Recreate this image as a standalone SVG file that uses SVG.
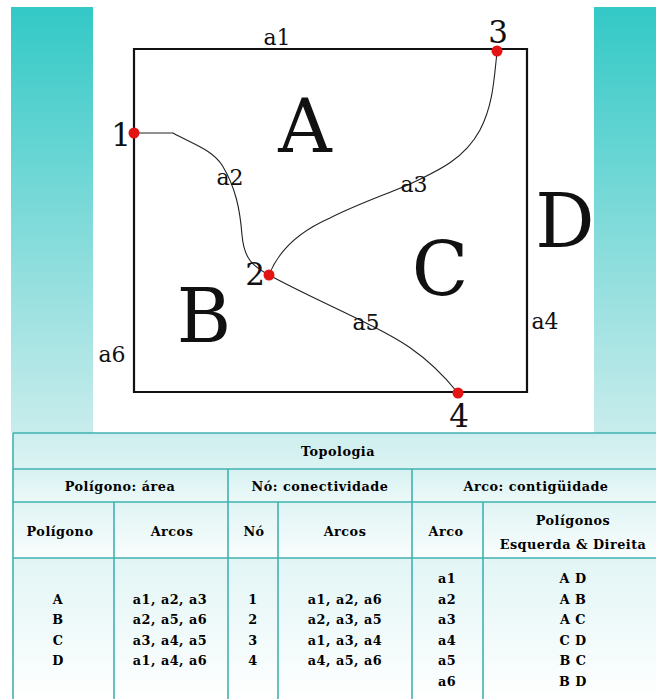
<svg xmlns="http://www.w3.org/2000/svg" width="656" height="699" viewBox="0 0 656 699">
<style>
.lbl{font-family:"DejaVu Serif","Liberation Serif",serif;fill:#111;text-anchor:middle}
.small{font-size:22px}
.num{font-size:31px}
.big{font-size:74px}
.arc{fill:none;stroke:#222;stroke-width:1.1}
.edge{fill:none;stroke:#111;stroke-width:2.2}
.dot{fill:#e31414}
.tt{font-family:"DejaVu Serif","Liberation Serif",serif;font-weight:bold;font-size:12.8px;fill:#000;text-anchor:middle;letter-spacing:0.5px}
.grid{stroke:#3fb3b0;stroke-width:1.6;fill:none}
</style>
<defs>
<linearGradient id="bg" x1="0" y1="0" x2="0" y2="1">
<stop offset="0" stop-color="#33c9c6"/>
<stop offset="1" stop-color="#c9ecec"/>
</linearGradient>
<linearGradient id="rowT" x1="0" y1="0" x2="0" y2="1">
<stop offset="0" stop-color="#cdeeee"/>
<stop offset="1" stop-color="#dcf3f3"/>
</linearGradient>
<linearGradient id="rowH" x1="0" y1="0" x2="0" y2="1">
<stop offset="0" stop-color="#d6f1f1"/>
<stop offset="1" stop-color="#edf9f9"/>
</linearGradient>
<linearGradient id="rowC" x1="0" y1="0" x2="0" y2="1">
<stop offset="0" stop-color="#dff4f4"/>
<stop offset="1" stop-color="#fafdfd"/>
</linearGradient>
<linearGradient id="rowD" x1="0" y1="0" x2="0" y2="1">
<stop offset="0" stop-color="#e2f5f5"/>
<stop offset="1" stop-color="#ffffff"/>
</linearGradient>
</defs>
<rect width="656" height="699" fill="#ffffff"/>
<rect x="11" y="7" width="645" height="426" fill="url(#bg)"/>
<rect x="93" y="7" width="501" height="426" fill="#ffffff"/>

<g id="connectors">
<path id="a1" class="edge" d="M134,133 L134,49 L497,49"/>
<path id="a4" class="edge" d="M497,49 L527,49 L527,392 L458,392"/>
<path id="a6" class="edge" d="M458,392 L134,392 L134,133"/>
<path id="a2" class="arc" d="M134,133 L173,133 C195,145 212,150 222,165 C236,188 240,210 242,235 C244,258 252,266 269,275"/>
<path id="a3" class="arc" d="M269,275 C278,252 298,232 330,218 C360,203 385,195 410,184 C440,170 465,158 480,130 C493,105 494,80 497,52"/>
<path id="a5" class="arc" d="M269,275 C300,292 330,305 360,320 C395,337 425,352 458,393"/>
</g>

<g id="region-A"><text class="lbl big" x="305" y="152">A</text></g>
<g id="region-B"><text class="lbl big" x="204" y="342">B</text></g>
<g id="region-C"><text class="lbl big" x="440" y="295">C</text></g>
<g id="region-D"><text class="lbl big" x="565" y="247">D</text></g>

<g id="arc-labels">
<text class="lbl small" x="277" y="45">a1</text>
<text class="lbl small" x="230" y="185">a2</text>
<text class="lbl small" x="414" y="192">a3</text>
<text class="lbl small" x="545" y="329">a4</text>
<text class="lbl small" x="366" y="330">a5</text>
<text class="lbl small" x="112" y="362">a6</text>
</g>

<g id="node-1"><circle class="dot" cx="134" cy="133" r="5.5"/><text class="lbl num" x="121" y="146">1</text></g>
<g id="node-2"><circle class="dot" cx="269" cy="275" r="5.5"/><text class="lbl num" x="255" y="285">2</text></g>
<g id="node-3"><circle class="dot" cx="497" cy="51" r="5.5"/><text class="lbl num" x="498" y="43">3</text></g>
<g id="node-4"><circle class="dot" cx="458" cy="393" r="5.5"/><text class="lbl num" x="459" y="427">4</text></g>

<g id="table">
<rect x="13" y="433" width="650" height="36" fill="url(#rowT)"/>
<rect x="13" y="469" width="650" height="33" fill="url(#rowH)"/>
<rect x="13" y="502" width="650" height="56" fill="url(#rowC)"/>
<rect x="13" y="558" width="650" height="145" fill="url(#rowD)"/>
<path class="grid" d="M13,433 H660 M13,469 H660 M13,502 H660 M13,558 H660 M13,433 V702 M228,469 V702 M412,469 V702 M114,502 V702 M278,502 V702 M483,502 V702"/>

<text class="tt" x="338" y="456">Topologia</text>
<text class="tt" x="120" y="491">Polígono: área</text>
<text class="tt" x="320" y="491">Nó: conectividade</text>
<text class="tt" x="536" y="491">Arco: contigüidade</text>

<text class="tt" x="60" y="536">Polígono</text>
<text class="tt" x="172" y="536">Arcos</text>
<text class="tt" x="254" y="536">Nó</text>
<text class="tt" x="345" y="536">Arcos</text>
<text class="tt" x="446" y="536">Arco</text>
<text class="tt" x="573" y="525">Polígonos</text>
<text class="tt" x="573" y="549">Esquerda &amp; Direita</text>

<text class="tt" x="58" y="604">A</text>
<text class="tt" x="58" y="624">B</text>
<text class="tt" x="58" y="645">C</text>
<text class="tt" x="58" y="665">D</text>

<text class="tt" x="170" y="604">a1, a2, a3</text>
<text class="tt" x="170" y="624">a2, a5, a6</text>
<text class="tt" x="170" y="645">a3, a4, a5</text>
<text class="tt" x="170" y="665">a1, a4, a6</text>

<text class="tt" x="253" y="604">1</text>
<text class="tt" x="253" y="624">2</text>
<text class="tt" x="253" y="645">3</text>
<text class="tt" x="253" y="665">4</text>

<text class="tt" x="345" y="604">a1, a2, a6</text>
<text class="tt" x="345" y="624">a2, a3, a5</text>
<text class="tt" x="345" y="645">a1, a3, a4</text>
<text class="tt" x="345" y="665">a4, a5, a6</text>

<text class="tt" x="447" y="583">a1</text>
<text class="tt" x="447" y="604">a2</text>
<text class="tt" x="447" y="624">a3</text>
<text class="tt" x="447" y="645">a4</text>
<text class="tt" x="447" y="665">a5</text>
<text class="tt" x="447" y="686">a6</text>

<text class="tt" x="573" y="583">A D</text>
<text class="tt" x="573" y="604">A B</text>
<text class="tt" x="573" y="624">A C</text>
<text class="tt" x="573" y="645">C D</text>
<text class="tt" x="573" y="665">B C</text>
<text class="tt" x="573" y="686">B D</text>
</g>
</svg>
